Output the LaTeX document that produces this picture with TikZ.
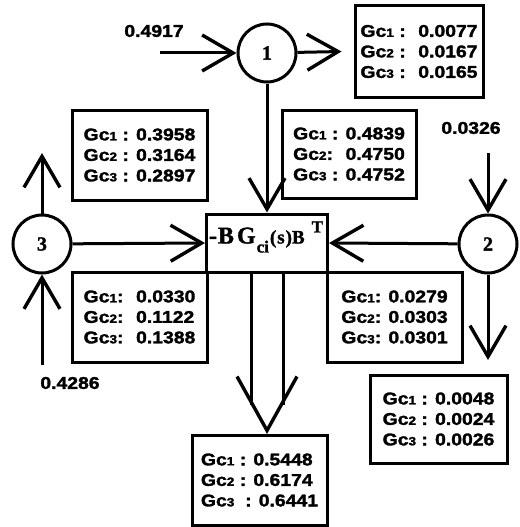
\documentclass[tikz,border=0pt]{standalone}
\usepackage{fontspec}
\usetikzlibrary{arrows.meta}
\newfontfamily\gcfont[FakeStretch=1.14,BoldFeatures={FakeBold=1.8}]{Liberation Sans}
\newfontfamily\symfont[BoldFeatures={FakeBold=1.5}]{Liberation Serif}
% "Gc" followed by a small index digit
\newcommand\gcsub[1]{Gc{\fontsize{12}{12}\selectfont #1}}
\begin{document}
\begin{tikzpicture}[x=1pt,y=-1pt,line width=3pt,
  ar/.style={-{Straight Barb[length=31pt,width=36pt,line width=3.4pt]}},
  gcbox/.style={draw,inner sep=0pt,align=left,
    font=\gcfont\bfseries\fontsize{17}{20.5}\selectfont},
  sumnode/.style={circle,draw,minimum size=58pt,inner sep=0pt,
    font=\symfont\bfseries\fontsize{20}{20}\selectfont},
  val/.style={inner sep=0pt,font=\gcfont\bfseries\fontsize{17}{17}\selectfont}]
\useasboundingbox (0,0) rectangle (519,527);

% summing junctions
\node[sumnode] (c1) at (267,53) {1};
\node[sumnode] (c2) at (488,244) {2};
\node[sumnode] (c3) at (42,244) {3};

% central transfer block
\node[draw,minimum width=121pt,minimum height=58pt,inner sep=0pt] (core) at (267,243) {};
\node[inner sep=0pt,font=\symfont\bfseries] (formula) at ([xshift=-1pt,yshift=6pt]core.center)
  {\fontsize{24}{24}\selectfont -\kern1pt B\kern3pt G\kern1pt\raisebox{-9pt}{\fontsize{17}{17}\selectfont ci}\kern1pt{\fontsize{19}{19}\selectfont (\kern1pt s\kern1pt)B}\kern7pt\raisebox{11pt}{\fontsize{17}{17}\selectfont T}};

% gain boxes
\node[gcbox,minimum width=128pt,minimum height=91pt] (gTR) at (419,51.5)
  {\gcsub1 : \ 0.0077\\ \gcsub2 : \ 0.0167\\ \gcsub3 : \ 0.0165};
\node[gcbox,minimum width=135pt,minimum height=90pt] (gUL) at (139.5,155)
  {\gcsub1 : 0.3958\\ \gcsub2 : 0.3164\\ \gcsub3 : 0.2897};
\node[gcbox,minimum width=134pt,minimum height=88pt] (gUM) at (349,154)
  {\gcsub1 : 0.4839\\ \gcsub2: \ 0.4750\\ \gcsub3 : 0.4752};
\node[gcbox,minimum width=135pt,minimum height=90pt] (gLL) at (139.5,317)
  {\gcsub1: \ 0.0330\\ \gcsub2: \ 0.1122\\ \gcsub3: \ 0.1388};
\node[gcbox,minimum width=135pt,minimum height=90pt] (gLR) at (394.5,317)
  {\gcsub1: 0.0279\\ \gcsub2: 0.0303\\ \gcsub3: 0.0301};
\node[gcbox,minimum width=137pt,minimum height=88pt] (gRR) at (438.5,419)
  {\gcsub1 : 0.0048\\ \gcsub2 : 0.0024\\ \gcsub3 : 0.0026};
\node[gcbox,minimum width=135pt,minimum height=90pt] (gB) at (259.5,480)
  {\gcsub1 : 0.5448\\ \gcsub2 : 0.6174\\ \gcsub3 \ : 0.6441};

% input values
\node[val] (v1) at (154,31) {0.4917};
\node[val] (v2) at (471,128) {0.0326};
\node[val] (v3) at (70,383) {0.4286};

% free ends of the connectors
\coordinate (in1) at (160,53);
\coordinate (in2) at (488,153);
\coordinate (in3) at (42,365);
\coordinate (out1) at ([xshift=-12pt]gTR.west);
\coordinate (out2) at (488,360);
\coordinate (out3) at (42,153);

% connectors
\draw[ar] (in1) -- (c1);
\draw[ar] (c1) -- (out1);
\draw[ar] (c1.south) -- (c1.south |- core.north);
\draw[ar] (in2) -- (c2);
\draw[ar] (c2) -- (out2);
\draw[ar] (c2) -- (core.east);
\draw[ar] (in3) -- (c3);
\draw[ar] (c3) -- (out3);
\draw[ar] (c3) -- (core.west);

% wide output arrow
\coordinate (tip) at ([yshift=3pt]core.south |- gB.north);
\draw ([xshift=-16pt]core.south) -- ++(0,131);
\draw ([xshift=16pt]core.south) -- ++(0,131);
\draw[line width=3.4pt,line join=miter] ([shift={(-30,-54)}]tip) -- (tip) -- ([shift={(30,-54)}]tip);
\end{tikzpicture}
\end{document}
